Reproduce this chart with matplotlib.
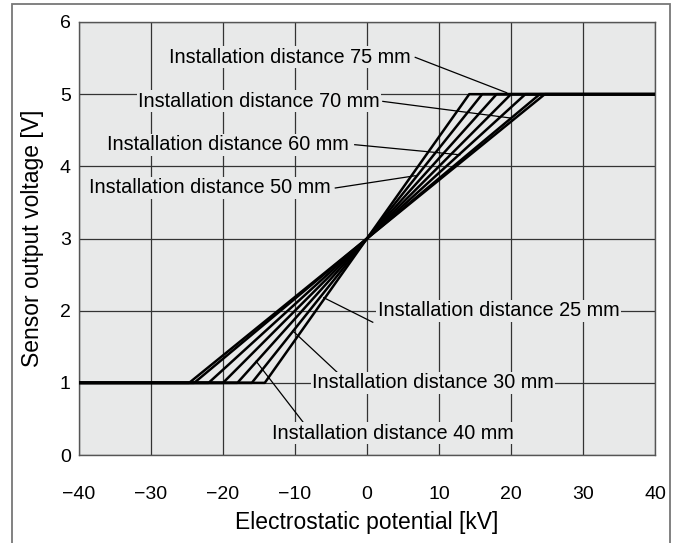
import matplotlib
matplotlib.use("Agg")
import matplotlib.pyplot as plt
from matplotlib.patches import Rectangle

plt.rcParams['font.family'] = ['Liberation Sans', 'DejaVu Sans']

# saturation points (kV) of each curve, output goes 1 V -> 5 V
distances = [25, 30, 40, 50, 60, 70, 75]
sat_kv = [14.2, 16.0, 18.0, 20.0, 22.0, 24.0, 24.7]
v_low, v_high = 1.0, 5.0
x_min, x_max = -40, 40

# label anchor (x, y, ha) and leader line (start, end) in data units
label_pos = {
    75: (6.0, 5.51, 'right'), 70: (1.8, 4.90, 'right'),
    60: (-2.6, 4.30, 'right'), 50: (-5.0, 3.70, 'right'),
    25: (1.5, 2.0, 'left'), 30: (-7.6, 1.0, 'left'), 40: (-13.2, 0.30, 'left'),
}
leaders = {
    75: [(6.7, 5.51), (19.4, 5.02)],
    70: [(2.2, 4.90), (19.9, 4.67)],
    60: [(-1.7, 4.30), (12.9, 4.16)],
    50: [(-4.4, 3.70), (6.7, 3.87)],
    25: [(0.8, 1.84), (-6.0, 2.18)],
    30: [(-3.75, 1.11), (-10.3, 1.72)],
    40: [(-8.6, 0.42), (-15.4, 1.30)],
}

bg = '#e8e9e9'

fig = plt.figure(figsize=(6.79, 5.43), dpi=100)
ax = fig.add_axes([0.1163, 0.162, 0.8484, 0.7975])
ax.set_facecolor(bg)

# outer frame
fig.patches.append(Rectangle((12 / 679, -0.01), 658 / 679, 1 - 4 / 543 + 0.01,
                             transform=fig.transFigure, fill=False,
                             edgecolor='#777777', linewidth=1.3))

ax.set_xlim(x_min, x_max)
ax.set_ylim(0, 6)
ax.set_xticks(range(-40, 41, 10))
ax.set_yticks(range(0, 7))
ax.grid(True, color='#333333', linewidth=0.9)
ax.set_axisbelow(True)
ax.tick_params(length=0, labelsize=14)
ax.tick_params(axis='x', pad=22)
ax.tick_params(axis='y', pad=6)
for s in ax.spines.values():
    s.set_color('#555555')
    s.set_linewidth(1.0)

for r in sat_kv:
    ax.plot([x_min, -r, r, x_max], [v_low, v_low, v_high, v_high],
            color='black', linewidth=1.8, solid_capstyle='butt', zorder=3)

for d in distances:
    (x0, y0), (x1, y1) = leaders[d]
    ax.plot([x0, x1], [y0, y1], color='black', linewidth=0.9, zorder=4)
    tx, ty, ha = label_pos[d]
    ax.text(tx, ty, f'Installation distance {d} mm', fontsize=14.3,
            ha=ha, va='center', zorder=5,
            bbox=dict(facecolor=bg, edgecolor='none', pad=1.0))

ax.set_xlabel('Electrostatic potential [kV]', fontsize=16.5, labelpad=6)
ax.set_ylabel('Sensor output voltage [V]', fontsize=16.5, labelpad=11)

fig.savefig('out.png', dpi=100)
